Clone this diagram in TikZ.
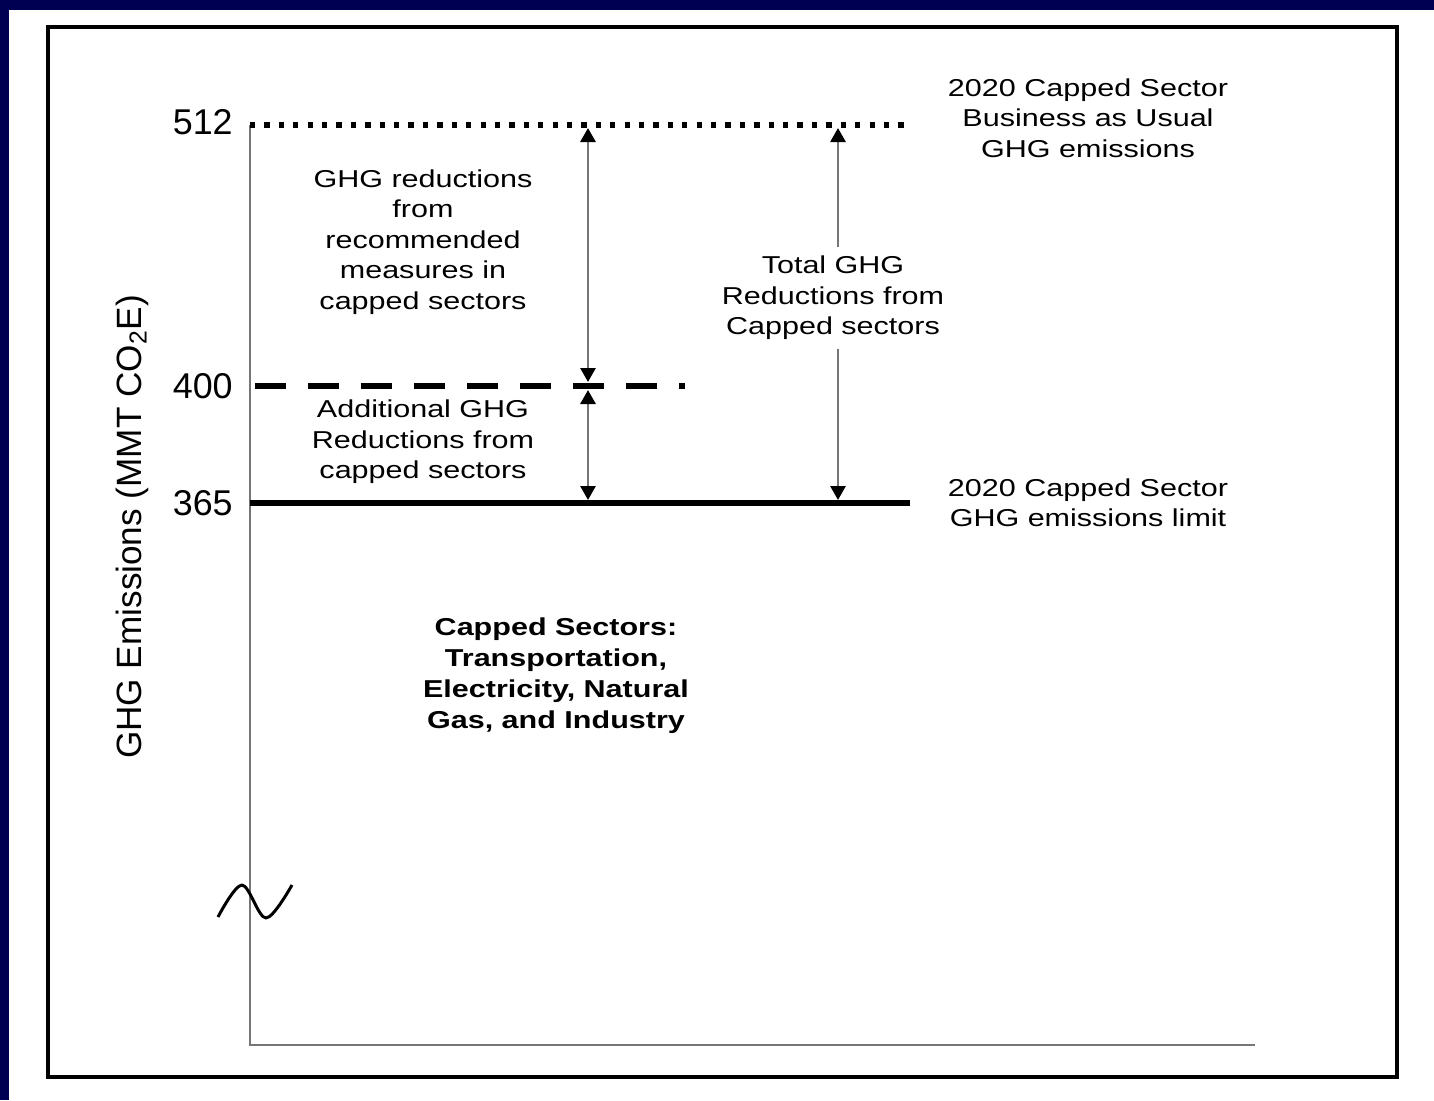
\documentclass[tikz,border=0pt]{standalone}
\usepackage{fontspec}
\setmainfont{Liberation Sans}
\newfontfamily\widesf{Liberation Sans}[FakeStretch=1.25]
\usetikzlibrary{arrows.meta}
\definecolor{slidenavy}{RGB}{0,0,82}
\definecolor{axisgray}{RGB}{118,118,118}

\begin{document}
\begin{tikzpicture}[x=0.02cm,y=-0.02cm,>={Triangle[color=black,length=0.28cm,width=0.3cm]},
    lbl/.style={font=\widesf\fontsize{13.9}{17.3}\selectfont,align=center,inner sep=0pt},
    boldlbl/.style={font=\widesf\bfseries\fontsize{13.9}{17.6}\selectfont,align=center,inner sep=0pt},
    ticklbl/.style={font=\fontsize{20.4}{24}\selectfont,anchor=east,inner sep=0pt},
    dimarrow/.style={axisgray,line width=1.6pt}]
    \useasboundingbox (0,0) rectangle (1434,1100);

    % Slide background and frame
    \fill[slidenavy] (0,0) rectangle (1434,1100);
    \fill[white] (9,10) rectangle (1434,1100);
    \draw[line width=2.3pt] (48,27) rectangle (1397,1077);

    % Axes
    \coordinate (ytop) at (250,125);
    \coordinate (origin) at (250,1045);
    \coordinate (xend) at (1255,1045);
    \draw[axisgray,line width=1.5pt] (ytop) -- (origin) -- (xend);
    \node[rotate=90,font=\fontsize{20}{24}\selectfont,inner sep=0pt] (ylbl) at (132,527)
        {GHG Emissions (MMT CO\textsubscript{2}E)};

    % Axis break
    \draw[line width=1.7pt,line join=round]
        plot[smooth,tension=0.55] coordinates {(218,917) (242,885) (266,918) (292,885)};

    % Emission levels
    \coordinate (bau) at (250,125);
    \coordinate (bauend) at (910,125);
    \coordinate (rec) at (255,386);
    \coordinate (recend) at (685,386);
    \coordinate (cap) at (250,503);
    \coordinate (capend) at (910,503);
    \draw[line width=3pt,dash pattern=on 3pt off 5.2pt] (bau) -- (bauend);
    \draw[line width=3.2pt,dash pattern=on 0.62cm off 0.44cm] (rec) -- (recend);
    \draw[line width=3.3pt] (cap) -- (capend);

    % Tick labels
    \node[ticklbl] (t512) at (233,122) {512};
    \node[ticklbl] (t400) at (233,386) {400};
    \node[ticklbl] (t365) at (233,503) {365};

    % Reduction arrows
    \coordinate (a1top) at (588,128);
    \coordinate (a1mid) at (588,382);
    \coordinate (a2mid) at (588,390);
    \coordinate (a2bot) at (588,500);
    \draw[dimarrow,<->] (a1top) -- (a1mid);
    \draw[dimarrow,<->] (a2mid) -- (a2bot);

    \node[lbl] (recred) at (423,242) {GHG reductions\\from\\recommended\\measures in\\capped sectors};
    \node[lbl] (addred) at (423,442) {Additional GHG\\Reductions from\\capped sectors};

    \coordinate (a3top) at (838,128);
    \coordinate (a3bot) at (838,500);
    \node[lbl,inner ysep=5pt] (totred) at (833,298) {Total GHG\\Reductions from\\Capped sectors};
    \draw[dimarrow,->] (totred.north -| a3top) -- (a3top);
    \draw[dimarrow,->] (totred.south -| a3bot) -- (a3bot);

    % Level labels
    \node[lbl] (baulbl) at (1088,118) {2020 Capped Sector\\Business as Usual\\GHG emissions};
    \node[lbl] (caplbl) at (1088,503) {2020 Capped Sector\\GHG emissions limit};

    % Sectors
    \node[boldlbl] (sectors) at (556,676) {Capped Sectors:\\Transportation,\\Electricity, Natural\\Gas, and Industry};
\end{tikzpicture}
\end{document}
